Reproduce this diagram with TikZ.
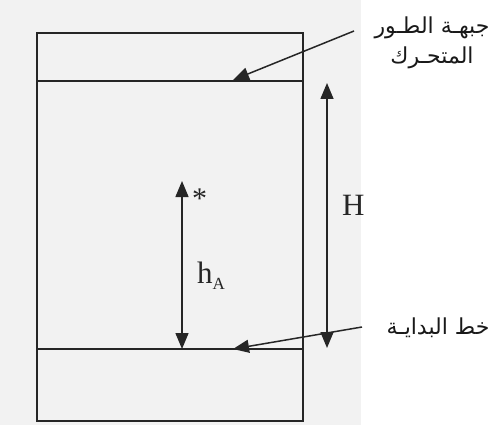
\documentclass[tikz,border=0pt]{standalone}
\usepackage{fontspec}
\usetikzlibrary{arrows.meta}
\TeXXeTstate=1
\newfontfamily\arabicfont[Script=Arabic]{DejaVu Sans}
\newfontfamily\lserif{Liberation Serif}
\definecolor{ink}{HTML}{262626}
\begin{document}
\begin{tikzpicture}[x=1pt,y=-1pt,
  frame/.style={draw=ink,line width=1.8pt},
  tipped/.style={draw=ink,line width=1.5pt,-{Triangle[length=16pt,width=13pt]}},
  dbl/.style={draw=ink,line width=1.5pt,{Triangle[length=16pt,width=13pt]}-{Triangle[length=16pt,width=13pt]}},
  artext/.style={font=\arabicfont\fontsize{22}{30}\selectfont,align=center,inner sep=0pt,text=black!90},
  lbl/.style={font=\lserif\fontsize{31}{31}\selectfont,text=ink,inner sep=0pt,anchor=base west}]
\useasboundingbox (0,0) rectangle (492,425);
\fill[black!5] (0,0) rectangle (361,425);
% frame and lines
\draw[frame] (37,33) rectangle (303,421);
\coordinate (tl) at (37,81);
\coordinate (tr) at (303,81);
\coordinate (bl) at (37,349);
\coordinate (br) at (303,349);
\draw[frame] (tl) -- (tr);
\draw[frame] (bl) -- (br);
% hA arrow
\coordinate (ha1) at (182,181);
\coordinate (ha2) at (182,349);
\draw[dbl] (ha1) -- (ha2);
\node[lbl,font=\lserif\fontsize{30}{30}\selectfont] (star) at (192,208) {*};
\node[lbl] (hA) at (197,283) {h\raisebox{-6pt}{\fontsize{17}{17}\selectfont A}};
% H arrow
\coordinate (H1) at (327,83);
\coordinate (H2) at (327,348);
\draw[dbl] (H1) -- (H2);
\node[lbl] (Hl) at (342,215) {H};
% labels
\node[artext] (front) at (432,43) {\beginR جبهـة الطـور\endR\\\beginR المتحـرك\endR};
\node[artext] (start) at (438,328) {\beginR خط البدايـة\endR};
\coordinate (f0) at (354,31);
\coordinate (f1) at (233,80);
\coordinate (s0) at (362,327);
\coordinate (s1) at (233,349);
\draw[tipped] (f0) -- (f1);
\draw[tipped] (s0) -- (s1);
\end{tikzpicture}
\end{document}
